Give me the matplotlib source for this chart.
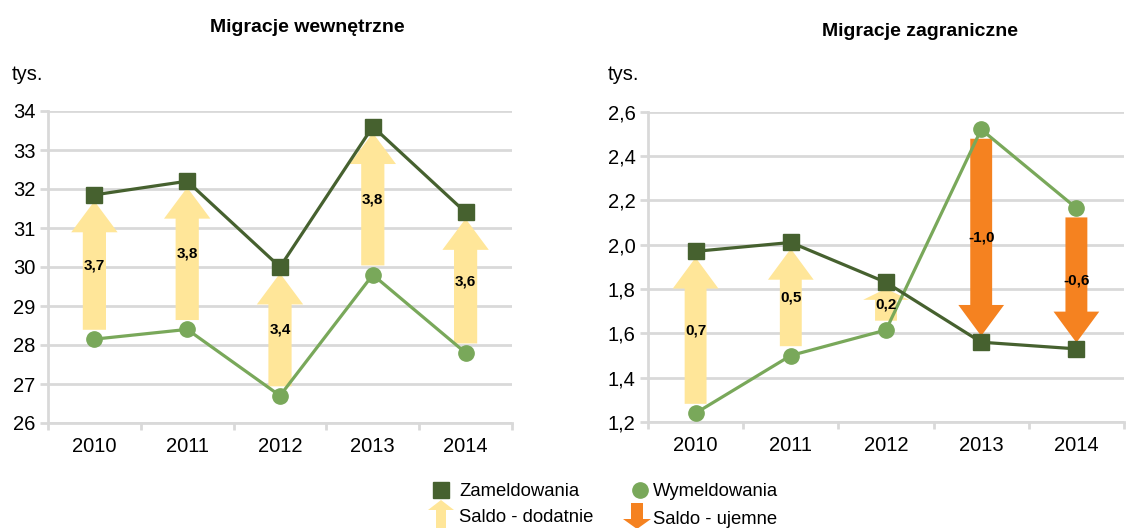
import matplotlib.pyplot as plt
from matplotlib.patches import FancyArrow
from matplotlib.ticker import FixedLocator, FuncFormatter

plt.rcParams['font.family'] = ['Liberation Sans', 'DejaVu Sans']

years = ['2010', '2011', '2012', '2013', '2014']

# Migracje wewnętrzne (tys.)
int_in = [31.85, 32.2, 30.0, 33.6, 31.4]     # Zameldowania
int_out = [28.15, 28.4, 26.7, 29.8, 27.8]    # Wymeldowania
int_saldo = [3.7, 3.8, 3.4, 3.8, 3.6]

# Migracje zagraniczne (tys.)
ext_in = [1.97, 2.01, 1.83, 1.56, 1.53]
ext_out = [1.24, 1.50, 1.615, 2.52, 2.165]
ext_saldo = [0.7, 0.5, 0.2, -1.0, -0.6]

DARK = '#46612f'
LIGHT = '#79a85a'
YELLOW = '#ffe699'
ORANGE = '#f58220'
GRID = '#d9d9d9'

W, H = 1146, 528
fig = plt.figure(figsize=(W / 100, H / 100), dpi=100)


def px_axes(x0, x1, y0, y1):
    return fig.add_axes([x0 / W, (H - y1) / H, (x1 - x0) / W, (y1 - y0) / H])


def draw_panel(ax, zam, wym, saldo, ylim, step, dec, hl, shaft, headw):
    x = list(range(len(years)))
    lo, hi = ylim
    rng = hi - lo
    ax.set_xlim(-0.5, len(years) - 0.5)
    ax.set_ylim(lo, hi)

    # saldo arrows between the two series
    for i, s in enumerate(saldo):
        a, b = min(zam[i], wym[i]), max(zam[i], wym[i])
        if s >= 0:
            start, end = a + 0.03 * rng, b - 0.02 * rng
            col = YELLOW
        else:
            start, end = b - 0.03 * rng, a + 0.02 * rng
            col = ORANGE
        length = end - start
        h = min(hl, 0.35 * abs(length))
        ax.add_patch(FancyArrow(i, start, 0, length, width=shaft, head_width=headw,
                                head_length=h, length_includes_head=True,
                                color=col, lw=0, zorder=2))
        ax.text(i, (start + end) / 2, f'{s:.1f}'.replace('.', ','), ha='center', va='center',
                fontsize=11, fontweight='bold', zorder=5)

    ax.plot(x, zam, color=DARK, lw=2.3, marker='s', ms=11, zorder=4)
    ax.plot(x, wym, color=LIGHT, lw=2.3, marker='o', ms=11, zorder=3)

    ticks = [lo + k * step for k in range(int(round(rng / step)) + 1)]
    ax.yaxis.set_major_locator(FixedLocator(ticks))
    ax.yaxis.set_major_formatter(FuncFormatter(lambda v, p: f'{v:.{dec}f}'.replace('.', ',')))
    ax.grid(axis='y', color=GRID, lw=2, zorder=0)
    ax.set_axisbelow(True)

    ax.set_xticks(x)
    ax.set_xticklabels(years)
    ax.set_xticks([k - 0.5 for k in range(len(years) + 1)], minor=True)
    ax.tick_params(axis='x', which='major', length=0, pad=10, labelsize=14.5)
    ax.tick_params(axis='x', which='minor', length=5, width=2, color=GRID)
    ax.tick_params(axis='y', length=6, width=2, color=GRID, pad=3, labelsize=14.5)

    for side in ['top', 'right']:
        ax.spines[side].set_visible(False)
    for side in ['left', 'bottom']:
        ax.spines[side].set_color(GRID)
        ax.spines[side].set_linewidth(2)


ax1 = px_axes(48, 512, 111, 423)
draw_panel(ax1, int_in, int_out, int_saldo, (26, 34), 1, 0, 0.8, 0.25, 0.5)

ax2 = px_axes(648, 1124, 111.7, 422)
draw_panel(ax2, ext_in, ext_out, ext_saldo, (1.2, 2.6), 0.2, 1, 0.14, 0.23, 0.48)

# overlay for titles, units and legend (pixel coordinates)
ov = fig.add_axes([0, 0, 1, 1], zorder=10)
ov.set_xlim(0, W)
ov.set_ylim(H, 0)
ov.axis('off')

ov.text(307, 28, 'Migracje wewnętrzne', ha='center', va='center', fontsize=14, fontweight='bold')
ov.text(920, 32, 'Migracje zagraniczne', ha='center', va='center', fontsize=14, fontweight='bold')
ov.text(12, 74, 'tys.', ha='left', va='center', fontsize=14.5)
ov.text(608, 74, 'tys.', ha='left', va='center', fontsize=14.5)

ov.plot([441], [490], marker='s', ms=11, color=DARK, ls='none')
ov.text(459, 491, 'Zameldowania', ha='left', va='center', fontsize=13.3)
ov.plot([640], [490], marker='o', ms=11, color=LIGHT, ls='none')
ov.text(653, 491, 'Wymeldowania', ha='left', va='center', fontsize=13.3)

ov.add_patch(FancyArrow(441, 530, 0, -30, width=10, head_width=26, head_length=10,
                        length_includes_head=True, color=YELLOW, lw=0))
ov.text(459, 518, 'Saldo - dodatnie', ha='left', va='center', fontsize=13.3)
ov.add_patch(FancyArrow(637, 503, 0, 26, width=12, head_width=28, head_length=10,
                        length_includes_head=True, color=ORANGE, lw=0))
ov.text(653, 520, 'Saldo - ujemne', ha='left', va='center', fontsize=13.3)

fig.savefig('out.png', dpi=100)
